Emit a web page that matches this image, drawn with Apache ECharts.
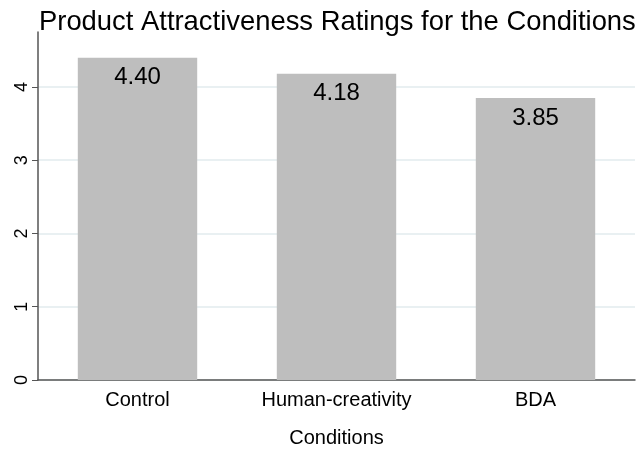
<!DOCTYPE html>
<html lang="en">
<head>
    <meta charset="UTF-8">
    <title>Product Attractiveness Ratings</title>
    <script src="https://cdn.jsdelivr.net/npm/echarts@6/dist/echarts.min.js"></script>
    <style>
        body { margin: 0; background: #fff; }
    </style>
</head>
<body>
    <div id="chart" style="width: 639px;height: 450px;"></div>
</body>
<script type="text/javascript">
    // data
    var conditions = ['Control', 'Human-creativity', 'BDA'];
    var ratings = [4.40, 4.18, 3.85];
    var yTicks = [0, 1, 2, 3, 4];

    var chart = echarts.init(document.getElementById('chart'));
    var font = 'Liberation Sans, Arial, sans-serif';

    var option = {
        animation: false,
        textStyle: { fontFamily: font },
        title: {
            text: 'Product Attractiveness Ratings for the Conditions',
            left: 34,
            top: 4,
            textStyle: { fontSize: 27.4, fontWeight: 'normal', color: '#000', fontFamily: font }
        },
        grid: { left: 38, right: 4, top: 32, bottom: 70, outerBoundsMode: 'none' },
        xAxis: {
            type: 'category',
            data: conditions,
            name: 'Conditions',
            nameLocation: 'middle',
            nameGap: 48,
            nameTextStyle: { fontSize: 20, color: '#000' },
            axisLine: { lineStyle: { color: '#555', width: 1.5 } },
            axisTick: { show: false },
            axisLabel: { fontSize: 20, color: '#000', margin: 10 }
        },
        yAxis: {
            type: 'value',
            min: 0,
            max: 4.75,
            interval: 1,
            axisLine: { show: true, lineStyle: { color: '#555', width: 1.5 } },
            axisTick: { show: true, length: 6, customValues: yTicks, lineStyle: { color: '#555' } },
            axisLabel: { rotate: 90, fontSize: 18, color: '#000', margin: 7, customValues: yTicks },
            splitLine: { show: true, lineStyle: { color: '#e2ebee', width: 1.5 } }
        },
        series: [{
            type: 'bar',
            data: ratings,
            barWidth: '60%',
            itemStyle: { color: '#bebebe' },
            label: {
                show: true,
                position: 'insideTop',
                distance: 8,
                fontSize: 24,
                color: '#000',
                formatter: function (p) { return p.value.toFixed(2); }
            }
        }]
    };

    chart.setOption(option);
</script>
</html>
